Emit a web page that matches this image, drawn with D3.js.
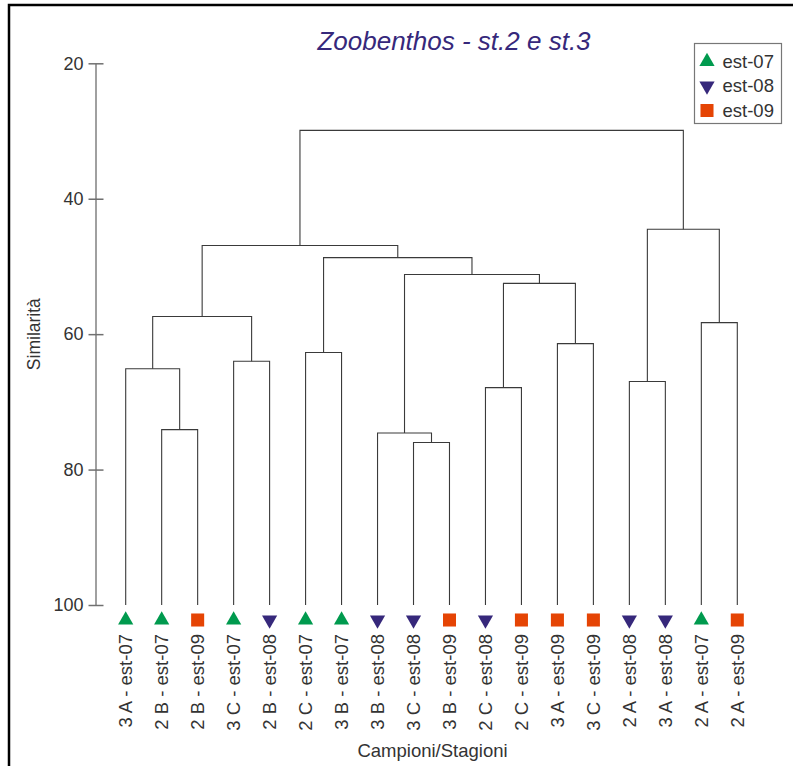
<!DOCTYPE html>
<html>
<head>
<meta charset="utf-8">
<script src="https://cdn.jsdelivr.net/npm/d3@7"></script>
<style>
  body { margin: 0; background: #fff; }
  svg { display: block; font-family: "Liberation Sans", Arial, sans-serif; }
</style>
</head>
<body>
<svg width="793" height="766"></svg>
<script>
// leaves in dendrogram order
const samples = [
    "3 A - est-07", "2 B - est-07", "2 B - est-09", "3 C - est-07", "2 B - est-08",
    "2 C - est-07", "3 B - est-07", "3 B - est-08", "3 C - est-08", "3 B - est-09",
    "2 C - est-08", "2 C - est-09", "3 A - est-09", "3 C - est-09", "2 A - est-08",
    "3 A - est-08", "2 A - est-07", "2 A - est-09"
];
const seasons = ["est-07", "est-08", "est-09"];
// merges: [left, right, similarity], new cluster ids start at samples.length
const merges = [
    [1, 2, 74.1],
    [0, 18, 65.1],
    [3, 4, 64.0],
    [19, 20, 57.4],
    [5, 6, 62.7],
    [8, 9, 76.0],
    [7, 23, 74.6],
    [10, 11, 67.9],
    [12, 13, 61.4],
    [25, 26, 52.5],
    [24, 27, 51.2],
    [22, 28, 48.7],
    [21, 29, 46.9],
    [14, 15, 67.0],
    [16, 17, 58.3],
    [31, 32, 44.5],
    [30, 33, 29.9]
];
const yTicks = [20, 40, 60, 80, 100];

const svg = d3.select('svg');

// frame (left + top edges visible)
svg.append('rect')
    .attr('x', 9).attr('y', 5)
    .attr('width', 900).attr('height', 900)
    .attr('fill', 'none')
    .attr('stroke', '#000')
    .attr('stroke-width', 2.5);

const xScale = d3.scalePoint()
    .domain(samples)
    .range([125.7, 737.3]);

const yScale = d3.scaleLinear()
    .domain([20, 100])
    .range([63.3, 605]);

const color = d3.scaleOrdinal()
    .domain(seasons)
    .range(['#009a4e', '#36287b', '#e54404']);

const shape = d3.scaleOrdinal()
    .domain(seasons)
    .range([d3.symbolTriangle, d3.symbolTriangle, d3.symbolSquare]);

function marker(g, season) {
    const tri = season !== "est-09";
    g.append('path')
        .attr('d', d3.symbol().type(shape(season)).size(tri ? 100 : 170)())
        .attr('transform', season === "est-08" ? 'rotate(180)' : null)
        .attr('fill', color(season));
}

// y axis
const yAxis = svg.append('g')
    .attr('transform', 'translate(95.5,0)')
    .call(d3.axisLeft(yScale).tickValues(yTicks).tickSize(0).tickPadding(12));
yAxis.select('.domain').attr('stroke', '#808080').attr('stroke-width', 1.5);
yAxis.selectAll('.tick line').remove();
yAxis.selectAll('.tick').append('line')
    .attr('x1', -7).attr('x2', 8)
    .attr('stroke', '#707070').attr('stroke-width', 1.5);
yAxis.selectAll('.tick text')
    .attr('font-size', 18).attr('fill', '#333')
    .attr('font-family', '"Liberation Sans", Arial, sans-serif');

svg.append('text')
    .attr('transform', `translate(40,${yScale(60)}) rotate(-90)`)
    .attr('text-anchor', 'middle')
    .attr('font-size', 17.5)
    .attr('fill', '#333')
    .text('Similarità');

// build node positions
const nodes = samples.map((s) => ({ x: xScale(s), y: yScale(100) }));
merges.forEach(([a, b, h]) => {
    nodes.push({ x: (nodes[a].x + nodes[b].x) / 2, y: yScale(h) });
});

const links = svg.append('g')
    .attr('fill', 'none')
    .attr('stroke', '#3a3a3a')
    .attr('stroke-width', 1.1);

links.selectAll('path')
    .data(merges)
    .enter()
    .append('path')
    .attr('d', ([a, b, h]) => {
        const y = yScale(h);
        return `M${nodes[a].x},${nodes[a].y}V${y}H${nodes[b].x}V${nodes[b].y}`;
    });

// leaf markers
svg.selectAll('g.leaf')
    .data(samples)
    .enter()
    .append('g')
    .attr('class', 'leaf')
    .attr('transform', (s) => `translate(${xScale(s)},620)`)
    .each(function (s) { marker(d3.select(this), s.split(' - ')[1]); });

// leaf labels
svg.selectAll('text.lab')
    .data(samples)
    .enter()
    .append('text')
    .attr('class', 'lab')
    .attr('transform', (s) => `translate(${xScale(s)},634) rotate(-90)`)
    .attr('dy', '0.36em')
    .attr('text-anchor', 'end')
    .attr('font-size', 18.5)
    .attr('fill', '#333')
    .text((s) => s);

svg.append('text')
    .attr('x', 432.5)
    .attr('y', 756.5)
    .attr('text-anchor', 'middle')
    .attr('font-size', 18.5)
    .attr('fill', '#333')
    .text('Campioni/Stagioni');

// title
svg.append('text')
    .attr('x', 454)
    .attr('y', 50)
    .attr('text-anchor', 'middle')
    .attr('font-size', 26)
    .attr('font-style', 'italic')
    .attr('fill', '#36287b')
    .text('Zoobenthos - st.2 e st.3');

// legend
const legend = svg.append('g').attr('transform', 'translate(694.5,43.5)');
legend.append('rect')
    .attr('width', 87).attr('height', 80)
    .attr('fill', '#fff')
    .attr('stroke', '#777').attr('stroke-width', 1.2);
seasons.forEach((s, i) => {
    const row = legend.append('g').attr('transform', `translate(12.5,${18 + i * 24.5})`);
    marker(row, s);
    row.append('text')
        .attr('x', 15.5)
        .attr('dy', '0.35em')
        .attr('font-size', 18.5)
        .attr('fill', '#333')
        .text(s);
});
</script>
</body>
</html>
